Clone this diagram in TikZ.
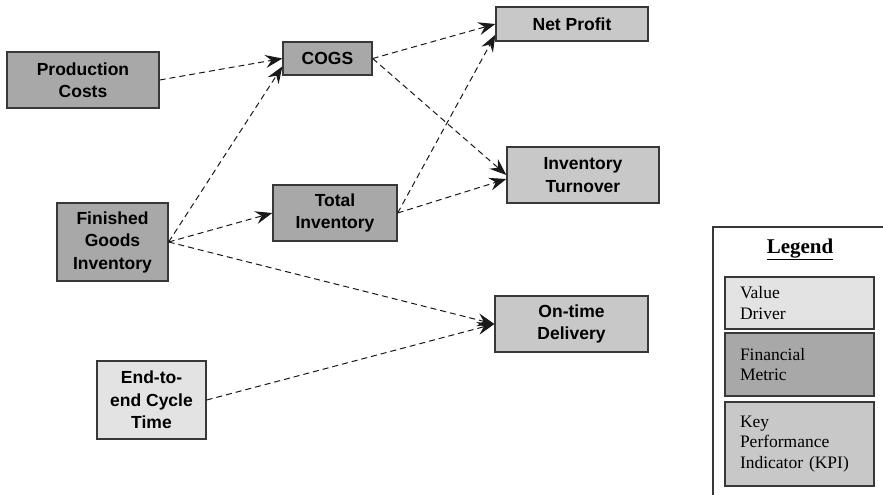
\documentclass[tikz,border=0pt]{standalone}
\usepackage{fontspec}
\setmainfont{Liberation Serif}
\newfontfamily\boxfont{Liberation Sans}
\usetikzlibrary{arrows.meta,calc}
\definecolor{finfill}{HTML}{A8A8A8}
\definecolor{kpifill}{HTML}{C8C8C8}
\definecolor{drvfill}{HTML}{E3E3E3}
\definecolor{edgegray}{HTML}{383838}
\tikzset{
  metric/.style={draw=edgegray, line width=1.3pt, rectangle, align=center,
    inner sep=2pt, font=\boxfont\bfseries\fontsize{17.5}{22.5}\selectfont},
  fin/.style={metric, fill=finfill},
  kpi/.style={metric, fill=kpifill},
  drv/.style={metric, fill=drvfill},
  legbox/.style={draw=edgegray, line width=1.3pt, rectangle, align=left,
    text width=119pt, inner xsep=15pt, inner ysep=2pt, minimum width=149pt,
    font=\fontsize{17.5}{20.5}\selectfont},
  link/.style={dash pattern=on 6pt off 4pt, line width=1pt, black!90,
    -{Stealth[length=17pt, width=13pt, inset=6pt]}}
}
\begin{document}
\begin{tikzpicture}[x=1pt, y=-1pt]
\useasboundingbox (0,0) rectangle (883,495);

% metric boxes
\node[fin, minimum width=152pt, minimum height=56pt] (prod) at (83,80) {Production\\Costs};
\node[fin, minimum width=89pt, minimum height=33pt] (cogs) at (327.5,58.5) {COGS};
\node[kpi, minimum width=152pt, minimum height=34pt] (net) at (572,24) {Net Profit};
\node[fin, minimum width=111pt, minimum height=78pt] (fgi) at (112.5,242) {Finished\\Goods\\Inventory};
\node[fin, minimum width=124pt, minimum height=56pt] (tot) at (335,213) {Total\\Inventory};
\node[kpi, minimum width=152pt, minimum height=56pt] (turn) at (583,175) {Inventory\\Turnover};
\node[kpi, minimum width=153pt, minimum height=56pt] (otd) at (571.5,324) {On-time\\Delivery};
\node[drv, minimum width=109pt, minimum height=78pt] (e2e) at (151.5,400) {End-to-\\end Cycle\\Time};

% influence links
\draw[link] (prod.east) -- (cogs.west);
\draw[link] (fgi.east) -- (cogs.190);
\draw[link] (cogs.east) -- (net.west);
\draw[link] (cogs.east) -- (turn.west);
\draw[link] (tot.east) -- (net.188);
\draw[link] (tot.east) -- (turn.183);
\draw[link] (fgi.east) -- (tot.west);
\draw[link] (fgi.east) -- (otd.west);
\draw[link] (e2e.east) -- (otd.west);

% legend
\coordinate (legtr) at (883,227);
\coordinate (legbl) at (713,495);
\draw[edgegray, line width=1.3pt] (legtr) -| (legbl);
\node[font=\bfseries\fontsize{21}{24}\selectfont, inner sep=0pt, anchor=base] (legtitle) at (800,253) {\underline{Legend}};
\node[legbox, fill=drvfill, minimum height=52pt] (legdrv) at (799.5,303) {Value\\Driver};
\node[legbox, fill=finfill, minimum height=63pt] (legfin) at (799.5,364.5) {Financial\\Metric};
\node[legbox, fill=kpifill, minimum height=84pt] (legkpi) at (799.5,444) {Key\\Performance\\Indicator (KPI)};
\end{tikzpicture}
\end{document}
